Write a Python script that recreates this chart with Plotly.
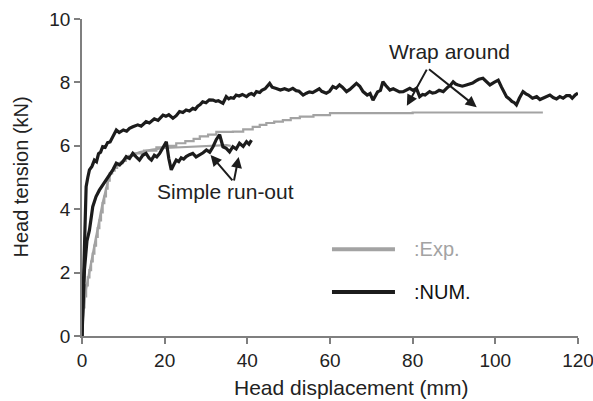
import plotly.graph_objects as go

# Numerical model, wrap-around case
num_wrap_x = [0, 0.3, 0.5, 0.7, 1.0, 1.4, 1.8, 2.4, 3.0, 3.5, 4.0, 4.5, 5.0, 5.6, 6.2, 6.8, 7.5, 8.3,
              9.0, 10, 10.8, 11.5, 12.3, 13.5, 14.3, 15.5, 16.3, 17.5, 18.4, 19.6, 20.3, 21, 22,
              22.8, 23.6, 24.4, 25.2, 26, 26.8, 27.4, 28, 28.6, 29.2, 30, 30.8, 31.7, 32.4, 33,
              34.1, 34.9, 35.5, 36, 36.7, 37.3, 38, 38.8, 39.8, 40.4, 41, 41.6, 42.2, 43, 43.5,
              44.3, 45.4, 46, 47, 48, 49, 50, 51, 51.8, 52.5, 53.5, 54.3, 55, 55.8, 56.7, 57.4,
              58, 59.1, 59.9, 60.7, 61.5, 62.3, 63, 64, 64.8, 65.5, 66.4, 67.2, 68, 69, 69.7,
              70.4, 71.5, 72.2, 72.8, 73.5, 74.5, 75.3, 76, 76.8, 77.7, 78.5, 79.3, 80.1, 80.9,
              81.7, 82.4, 83, 84.1, 84.8, 85.5, 86.4, 87.4, 88.5, 89.2, 89.8, 90.4, 91, 92, 93,
              93.8, 94.5, 95.3, 96, 97, 98, 98.7, 99.7, 100.7, 101.5, 102.7, 103.4, 104, 104.6,
              105.1, 105.8, 106.7, 107.4, 108, 109, 110, 110.8, 111.5, 112.3, 113.2, 114, 114.8,
              115.6, 116.4, 117.2, 118, 118.6, 119.3, 120]
num_wrap_y = [0, 1.6, 3.0, 4.0, 4.71, 5.0, 5.24, 5.35, 5.55, 5.5, 5.75, 5.8, 5.97, 5.95, 6.1, 6.12,
              6.29, 6.5, 6.42, 6.5, 6.46, 6.55, 6.6, 6.66, 6.62, 6.76, 6.72, 6.85, 6.8, 6.97,
              6.93, 6.98, 6.87, 6.95, 7.08, 7.05, 7.13, 7.1, 7.18, 7.15, 7.25, 7.3, 7.39, 7.36,
              7.45, 7.44, 7.4, 7.42, 7.34, 7.55, 7.48, 7.52, 7.5, 7.6, 7.57, 7.62, 7.55, 7.62,
              7.65, 7.6, 7.71, 7.68, 7.75, 7.8, 7.97, 7.85, 7.81, 7.76, 7.8, 7.75, 7.81, 7.74,
              7.72, 7.6, 7.66, 7.7, 7.68, 7.76, 7.8, 7.72, 7.66, 7.72, 7.87, 7.82, 7.92, 7.85,
              7.71, 7.78, 7.85, 7.97, 7.88, 7.71, 7.6, 7.65, 7.44, 7.7, 7.75, 8.02, 7.9, 7.76,
              7.8, 7.74, 7.7, 7.71, 7.76, 7.81, 7.75, 7.81, 7.55, 7.62, 7.6, 7.71, 7.66, 7.68,
              7.75, 7.71, 7.85, 7.92, 8.02, 7.95, 7.92, 7.88, 7.92, 7.96, 7.98, 8.05, 8.1, 8.13,
              8.0, 7.92, 8.0, 8.07, 7.85, 7.55, 7.48, 7.4, 7.36, 7.29, 7.5, 7.71, 7.64, 7.6, 7.5,
              7.55, 7.46, 7.5, 7.56, 7.6, 7.52, 7.48, 7.55, 7.5, 7.58, 7.58, 7.5, 7.6, 7.66]

# Numerical model, simple run-out case
num_run_x = [0, 0.3, 0.6, 1.2, 1.8, 2.6, 3.4, 4.2, 5.5, 6.7, 7.5, 8.3, 9.1, 9.9, 10.7, 11.5, 12.3,
             13.1, 13.9, 14.7, 15.5, 16.2, 16.8, 17.5, 18.1, 18.8, 19.6, 20.4, 21.0, 21.6, 22.2,
             22.8, 23.4, 24, 24.6, 25.2, 26, 26.8, 27.6, 28.5, 29.3, 30.1, 30.9, 31.7, 32.5,
             33.3, 34.1, 34.9, 35.7, 36.5, 37.3, 38.1, 39.0, 39.8, 40.4, 41]
num_run_y = [0, 1.2, 2.1, 3.0, 3.34, 4.08, 4.4, 4.6, 4.85, 5.1, 5.25, 5.45, 5.4, 5.5, 5.66, 5.6,
             5.76, 5.65, 5.55, 5.7, 5.76, 5.62, 5.55, 5.7, 5.65, 5.76, 5.95, 6.13, 5.6, 5.24,
             5.4, 5.55, 5.5, 5.62, 5.58, 5.66, 5.72, 5.76, 5.65, 5.71, 5.78, 5.87, 5.8, 5.97,
             6.2, 6.35, 5.97, 5.92, 5.81, 5.97, 5.9, 6.08, 5.98, 6.13, 6.05, 6.18]

# Experiment, simple run-out case
exp_run_x = [0, 0.3, 1.0, 2.0, 3.4, 5, 6.5, 8, 10, 12, 14, 17, 20, 24, 28, 32, 35, 36]
exp_run_y = [0, 0.8, 1.5, 2.2, 3.2, 4.2, 5.0, 5.35, 5.55, 5.7, 5.8, 5.88, 5.93, 5.95, 5.97, 6.0,
             6.02, 6.0]

# Experiment, wrap-around case (stepped load-cell record)
exp_wrap_x = [0, 0.2, 0.6, 1.0, 1.4, 1.8, 2.2, 2.6, 3.0, 3.4, 3.8, 4.2, 4.6, 5, 5.4, 5.8, 6.2, 6.7,
              7.3, 7.9, 8.5, 9.1, 9.8, 10.6, 11.4, 12.2, 15, 18, 20.5, 22.8, 25, 27, 28.5, 30.5,
              32.5, 36.5, 39, 41.3, 43, 44.6, 46.5, 48.6, 50.5, 52.7, 56, 60, 70, 80, 90, 100,
              111.5]
exp_wrap_y = [0, 0.9, 1.25, 1.6, 1.85, 2.08, 2.35, 2.6, 2.85, 3.13, 3.4, 3.65, 3.9, 4.19, 4.4,
              4.65, 4.9, 5.13, 5.22, 5.3, 5.38, 5.45, 5.52, 5.6, 5.68, 5.76, 5.85, 5.95, 6.0,
              6.08, 6.15, 6.22, 6.3, 6.35, 6.44, 6.45, 6.52, 6.6, 6.66, 6.72, 6.76, 6.81, 6.87,
              6.92, 6.97, 7.03, 7.03, 7.05, 7.05, 7.05, 7.05]

x_ticks = [0, 20, 40, 60, 80, 100, 120]
y_ticks = [0, 2, 4, 6, 8, 10]

EXP_COLOR = "#a3a3a3"
NUM_COLOR = "#1c1c1c"
AXIS_COLOR = "#7f7f7f"
TEXT_COLOR = "#222222"
FONT = "Liberation Sans, Arial, sans-serif"

fig = go.Figure()
fig.add_trace(go.Scatter(x=exp_run_x, y=exp_run_y, mode="lines",
                         line=dict(color=EXP_COLOR, width=2.2), showlegend=False))
fig.add_trace(go.Scatter(x=exp_wrap_x, y=exp_wrap_y, mode="lines",
                         line=dict(color=EXP_COLOR, width=2.2, shape="hv"), showlegend=False))
fig.add_trace(go.Scatter(x=num_run_x, y=num_run_y, mode="lines",
                         line=dict(color=NUM_COLOR, width=3.2), showlegend=False))
fig.add_trace(go.Scatter(x=num_wrap_x, y=num_wrap_y, mode="lines",
                         line=dict(color=NUM_COLOR, width=3.2), showlegend=False))

# Labelled V-shaped pointers
pointers = [
    ((83.6, 8.45), (78.6, 7.26)),
    ((83.6, 8.45), (95.5, 7.22)),
    ((36.7, 4.86), (31.1, 5.71)),
    ((36.7, 4.86), (37.9, 5.65)),
]
for (ax, ay), (tx, ty) in pointers:
    fig.add_annotation(x=tx, y=ty, ax=ax, ay=ay, xref="x", yref="y", axref="x", ayref="y",
                       text="", showarrow=True, arrowhead=2, arrowsize=1.1, arrowwidth=2,
                       arrowcolor=NUM_COLOR)

fig.add_annotation(x=89, y=8.96, xref="x", yref="y", text="Wrap around", showarrow=False,
                   font=dict(size=21, color=TEXT_COLOR, family=FONT))
fig.add_annotation(x=34.7, y=4.57, xref="x", yref="y", text="Simple run-out", showarrow=False,
                   font=dict(size=21, color=TEXT_COLOR, family=FONT))

# Legend drawn as line samples with labels
legend_items = [(":Exp.", EXP_COLOR, 0.274, EXP_COLOR), (":NUM.", NUM_COLOR, 0.139, "#111111")]
for label, color, yp, tcolor in legend_items:
    fig.add_shape(type="line", xref="paper", yref="paper", x0=0.504, x1=0.631, y0=yp, y1=yp,
                  line=dict(color=color, width=4))
    fig.add_annotation(x=0.665, y=yp, xref="paper", yref="paper", text=label, showarrow=False,
                       xanchor="left", yanchor="middle",
                       font=dict(size=20, color=tcolor, family=FONT))

# Axis titles
fig.add_annotation(x=0.544, y=-0.164, xref="paper", yref="paper", text="Head displacement (mm)",
                   xanchor="center", yanchor="middle", showarrow=False,
                   font=dict(size=21, color=TEXT_COLOR, family=FONT))
fig.add_annotation(x=-0.125, y=0.5, xref="paper", yref="paper", text="Head tension (kN)",
                   xanchor="center", yanchor="middle", textangle=-90, showarrow=False,
                   font=dict(size=20, color=TEXT_COLOR, family=FONT))

fig.update_xaxes(range=[0, 120], tickvals=x_ticks, showgrid=False, zeroline=False,
                 showline=True, linecolor=AXIS_COLOR, linewidth=1.5, ticks="outside",
                 ticklen=6, tickwidth=1.5, tickcolor=AXIS_COLOR, ticklabeloverflow="allow",
                 automargin=False, tickfont=dict(size=19, color=TEXT_COLOR, family=FONT))
fig.update_yaxes(range=[0, 10], tickvals=y_ticks, showgrid=False, zeroline=False,
                 showline=True, linecolor=AXIS_COLOR, linewidth=1.5, ticks="outside",
                 ticklen=6, tickwidth=1.5, tickcolor=AXIS_COLOR, automargin=False,
                 tickfont=dict(size=19, color=TEXT_COLOR, family=FONT))

fig.update_layout(width=593, height=401, margin=dict(l=82, r=15, t=19, b=65),
                  paper_bgcolor="white", plot_bgcolor="white", showlegend=False)

fig.write_html("out.html")
